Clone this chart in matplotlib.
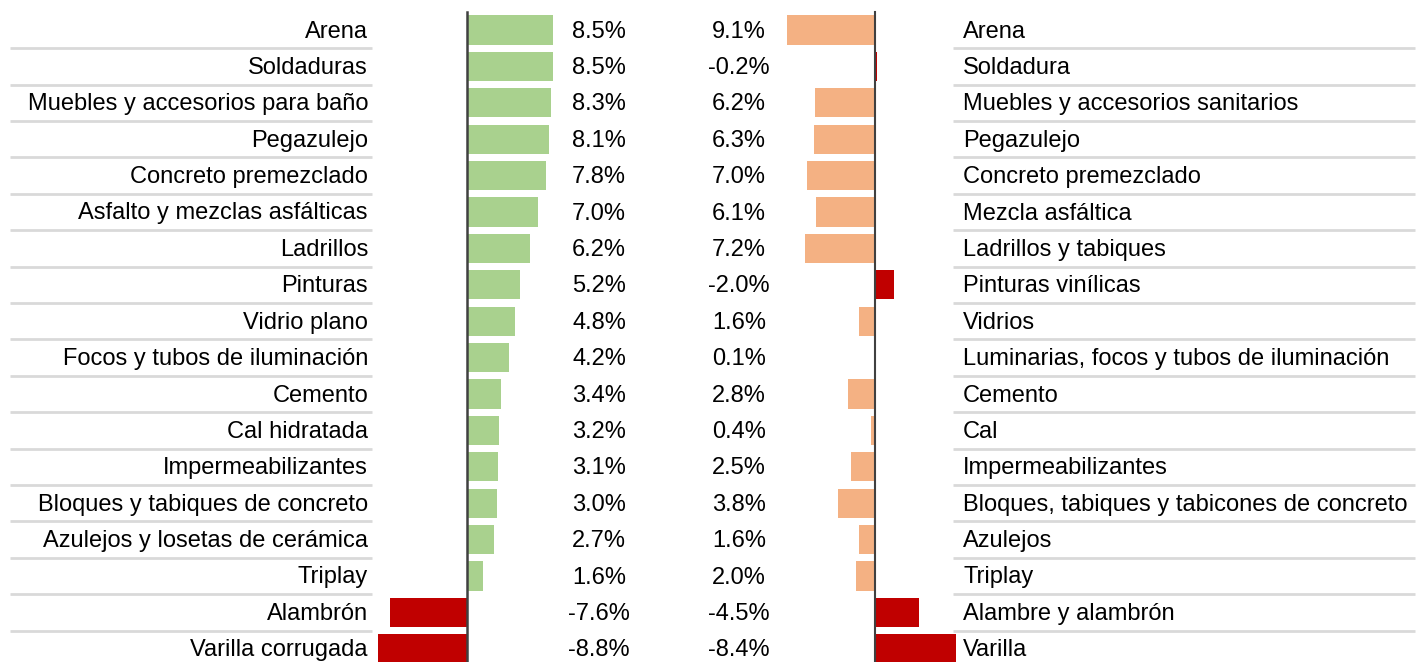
import numpy as np
import matplotlib.pyplot as plt

plt.rcParams['font.family'] = ['Liberation Sans', 'DejaVu Sans']

left_labels = [
    "Arena", "Soldaduras", "Muebles y accesorios para baño", "Pegazulejo",
    "Concreto premezclado", "Asfalto y mezclas asfálticas", "Ladrillos",
    "Pinturas", "Vidrio plano", "Focos y tubos de iluminación", "Cemento",
    "Cal hidratada", "Impermeabilizantes", "Bloques y tabiques de concreto",
    "Azulejos y losetas de cerámica", "Triplay", "Alambrón", "Varilla corrugada",
]
left_values = [8.5, 8.5, 8.3, 8.1, 7.8, 7.0, 6.2, 5.2, 4.8, 4.2, 3.4, 3.2,
               3.1, 3.0, 2.7, 1.6, -7.6, -8.8]

right_labels = [
    "Arena", "Soldadura", "Muebles y accesorios sanitarios", "Pegazulejo",
    "Concreto premezclado", "Mezcla asfáltica", "Ladrillos y tabiques",
    "Pinturas vinílicas", "Vidrios", "Luminarias, focos y tubos de iluminación",
    "Cemento", "Cal", "Impermeabilizantes",
    "Bloques, tabiques y tabicones de concreto", "Azulejos", "Triplay",
    "Alambre y alambrón", "Varilla",
]
right_values = [9.1, -0.2, 6.2, 6.3, 7.0, 6.1, 7.2, -2.0, 1.6, 0.1, 2.8, 0.4,
                2.5, 3.8, 1.6, 2.0, -4.5, -8.4]

GREEN = "#a9d18e"
SALMON = "#f4b183"
RED = "#c00000"
GRID = "#d9d9d9"
AXIS = "#404040"

W, H = 1417, 662
row0, step = 30, 36.4
n = len(left_labels)
rows = np.arange(n)
ylim = ((H - row0) / step, -row0 / step)

fig = plt.figure(figsize=(W / 100, H / 100), dpi=100)

# background axes in pixel units for labels and separators
bg = fig.add_axes([0, 0, 1, 1])
bg.set_xlim(0, W)
bg.set_ylim(H, 0)
bg.axis("off")

fs = 17
for i in rows:
    y = row0 + step * i + 1.5
    bg.text(368, y, left_labels[i], ha="right", va="center", fontsize=fs)
    bg.text(963, y, right_labels[i], ha="left", va="center", fontsize=fs)
    bg.text(599, y, f"{left_values[i]:.1f}%", ha="center", va="center", fontsize=fs)
    bg.text(739, y, f"{right_values[i]:.1f}%", ha="center", va="center", fontsize=fs)
    if i < n - 1:
        ys = y - 1.5 + step / 2
        bg.plot([10, 372], [ys, ys], color=GRID, lw=2, solid_capstyle="butt")
        bg.plot([953, 1415], [ys, ys], color=GRID, lw=2, solid_capstyle="butt")

# left bars
z_left, px_left = 467, 10.1
axl = fig.add_axes([370 / W, 0, 200 / W, 1])
axl.set_xlim((370 - z_left) / px_left, (570 - z_left) / px_left)
axl.set_ylim(*ylim)
lv = np.array(left_values)
axl.barh(rows, lv, height=0.8, color=np.where(lv >= 0, GREEN, RED))
axl.plot([0, 0], [-0.5, n], color=AXIS, lw=1.8)
axl.axis("off")

# right bars (positive to the left)
z_right, px_right = 875, 9.7
axr = fig.add_axes([780 / W, 0, 180 / W, 1])
axr.set_xlim((780 - z_right) / px_right, (960 - z_right) / px_right)
axr.set_ylim(*ylim)
rv = np.array(right_values)
axr.barh(rows, -rv, height=0.8, color=np.where(rv >= 0, SALMON, RED))
axr.plot([0, 0], [-0.5, n], color=AXIS, lw=1.5)
axr.axis("off")

fig.savefig("out.png", dpi=100)
